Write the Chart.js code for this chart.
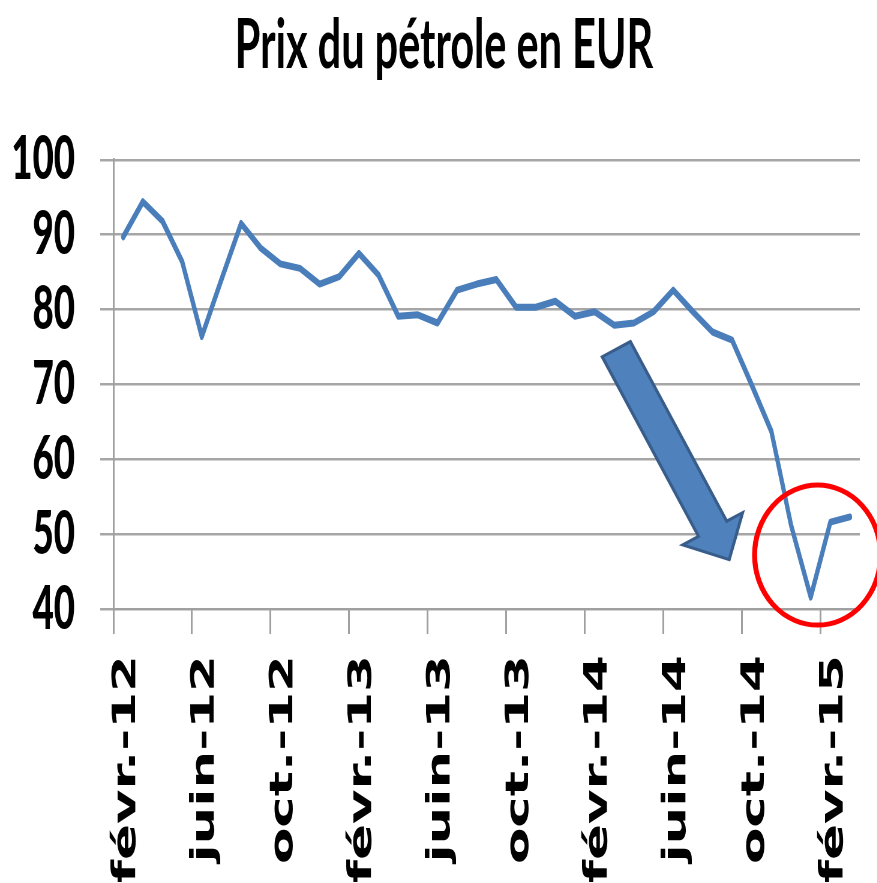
<!DOCTYPE html>
<html>
<head>
<meta charset="utf-8">
<script src="https://cdn.jsdelivr.net/npm/chart.js@4.4.1/dist/chart.umd.min.js"></script>
<style>
html, body { margin: 0; padding: 0; overflow: hidden; background: #ffffff; }
#wrap { width: 1462px; height: 883px; transform: scaleX(0.6); transform-origin: 0 0; }
canvas { display: block; }
</style>
</head>
<body>
<div id="wrap"><canvas id="c" width="1462" height="883"></canvas></div>
<script>
// ---- data ----
const months = [
  "févr.-12", "mars-12", "avr.-12", "mai-12", "juin-12", "juil.-12", "août-12", "sept.-12",
  "oct.-12", "nov.-12", "déc.-12", "janv.-13", "févr.-13", "mars-13", "avr.-13", "mai-13",
  "juin-13", "juil.-13", "août-13", "sept.-13", "oct.-13", "nov.-13", "déc.-13", "janv.-14",
  "févr.-14", "mars-14", "avr.-14", "mai-14", "juin-14", "juil.-14", "août-14", "sept.-14",
  "oct.-14", "nov.-14", "déc.-14", "janv.-15", "févr.-15", "mars-15"
];
const oilPriceEUR = [
  89.7, 94.4, 91.8, 86.4, 76.4, 84.0, 91.5, 88.2,
  86.1, 85.5, 83.4, 84.4, 87.5, 84.6, 79.1, 79.3,
  78.2, 82.6, 83.4, 84.0, 80.3, 80.3, 81.1, 79.1,
  79.7, 77.9, 78.2, 79.7, 82.6, 79.7, 77.0, 75.9,
  69.9, 63.7, 51.2, 41.6, 51.6, 52.3
];
const yTicks = [40, 50, 60, 70, 80, 90, 100];
const labelEvery = 4;
const chartTitle = "Prix du pétrole en EUR";

// annotation anchors in data units (category index, value)
const arrowFrom = [25.1, 74.7];
const arrowTo = [30.85, 46.6];
const circleCenter = [35.35, 47.2];

const SX = 0.6; // horizontal squeeze of the whole picture

const annotations = {
  id: 'annotations',
  afterDatasetsDraw(chart) {
    const ctx = chart.ctx;
    const xs = chart.scales.x, ys = chart.scales.y;
    ctx.save();
    ctx.scale(1 / SX, 1);
    // arrow
    const tx = xs.getPixelForValue(arrowFrom[0]) * SX, ty = ys.getPixelForValue(arrowFrom[1]);
    const hx = xs.getPixelForValue(arrowTo[0]) * SX, hy = ys.getPixelForValue(arrowTo[1]);
    const len = Math.hypot(hx - tx, hy - ty);
    const ux = (hx - tx) / len, uy = (hy - ty) / len;
    const nx = -uy, ny = ux;
    const sw = 16, hw = 34, hl = 35;
    const bx = hx - ux * hl, by = hy - uy * hl;
    ctx.beginPath();
    ctx.moveTo(tx + nx * sw, ty + ny * sw);
    ctx.lineTo(bx + nx * sw, by + ny * sw);
    ctx.lineTo(bx + nx * hw, by + ny * hw);
    ctx.lineTo(hx, hy);
    ctx.lineTo(bx - nx * hw, by - ny * hw);
    ctx.lineTo(bx - nx * sw, by - ny * sw);
    ctx.lineTo(tx - nx * sw, ty - ny * sw);
    ctx.closePath();
    ctx.fillStyle = '#4f81bd';
    ctx.fill();
    ctx.lineWidth = 3;
    ctx.strokeStyle = '#385d8a';
    ctx.lineJoin = 'miter';
    ctx.stroke();
    // circle
    const cx = xs.getPixelForValue(circleCenter[0]) * SX, cy = ys.getPixelForValue(circleCenter[1]);
    ctx.beginPath();
    ctx.ellipse(cx, cy, 63, 70, 0, 0, Math.PI * 2);
    ctx.lineWidth = 5;
    ctx.strokeStyle = '#ff0000';
    ctx.stroke();
    ctx.restore();
  }
};

new Chart(document.getElementById('c'), {
  type: 'line',
  data: {
    labels: months,
    datasets: [{
      label: 'Prix du pétrole en EUR',
      data: oilPriceEUR,
      borderColor: '#4a7ebb',
      backgroundColor: '#4a7ebb',
      borderWidth: 7,
      pointRadius: 0,
      tension: 0,
      borderJoinStyle: 'round',
      borderCapStyle: 'round'
    }]
  },
  options: {
    responsive: false,
    devicePixelRatio: 1,
    animation: false,
    layout: { padding: { left: 47, right: 29, top: 0, bottom: 0 } },
    plugins: {
      legend: { display: false },
      tooltip: { enabled: false },
      title: {
        display: true,
        text: chartTitle,
        color: '#000000',
        font: { family: 'Lato', weight: 'bold', size: 69 },
        padding: { top: 4, bottom: 73 }
      }
    },
    scales: {
      x: {
        offset: true,
        grid: {
          offset: true,
          drawOnChartArea: false,
          drawTicks: true,
          tickLength: 25,
          lineWidth: 3,
          color: (c) => (c.index % labelEvery === 0 && c.index < months.length) ? '#a0a0a0' : 'rgba(0,0,0,0)'
        },
        border: { display: true, color: '#a0a0a0', width: 2 },
        ticks: {
          autoSkip: false,
          minRotation: 90,
          maxRotation: 90,
          padding: 21,
          labelOffset: 6,
          color: '#000000',
          font: { family: 'DejaVu Sans', weight: 'bold', size: 53 },
          callback: function (v, i) { return i % labelEvery === 0 ? months[i] : ''; }
        },
        afterFit: (s) => { s.height = 274; s.paddingLeft = 0; s.paddingRight = 0; }
      },
      y: {
        min: yTicks[0],
        max: yTicks[yTicks.length - 1],
        grid: {
          color: '#a6a6a6',
          lineWidth: 2.5,
          drawTicks: true,
          tickLength: 22
        },
        border: { display: true, color: '#a0a0a0', width: 3 },
        ticks: {
          autoSkip: false,
          stepSize: 10,
          padding: 42,
          color: '#000000',
          font: { family: 'Lato', weight: '900', size: 61 },
          callback: (v) => (yTicks.includes(v) ? String(v) : '')
        },
        afterFit: (s) => { s.width = 142; s._computeLabelArea = () => undefined; }
      }
    }
  },
  plugins: [annotations]
});
</script>
</body>
</html>
